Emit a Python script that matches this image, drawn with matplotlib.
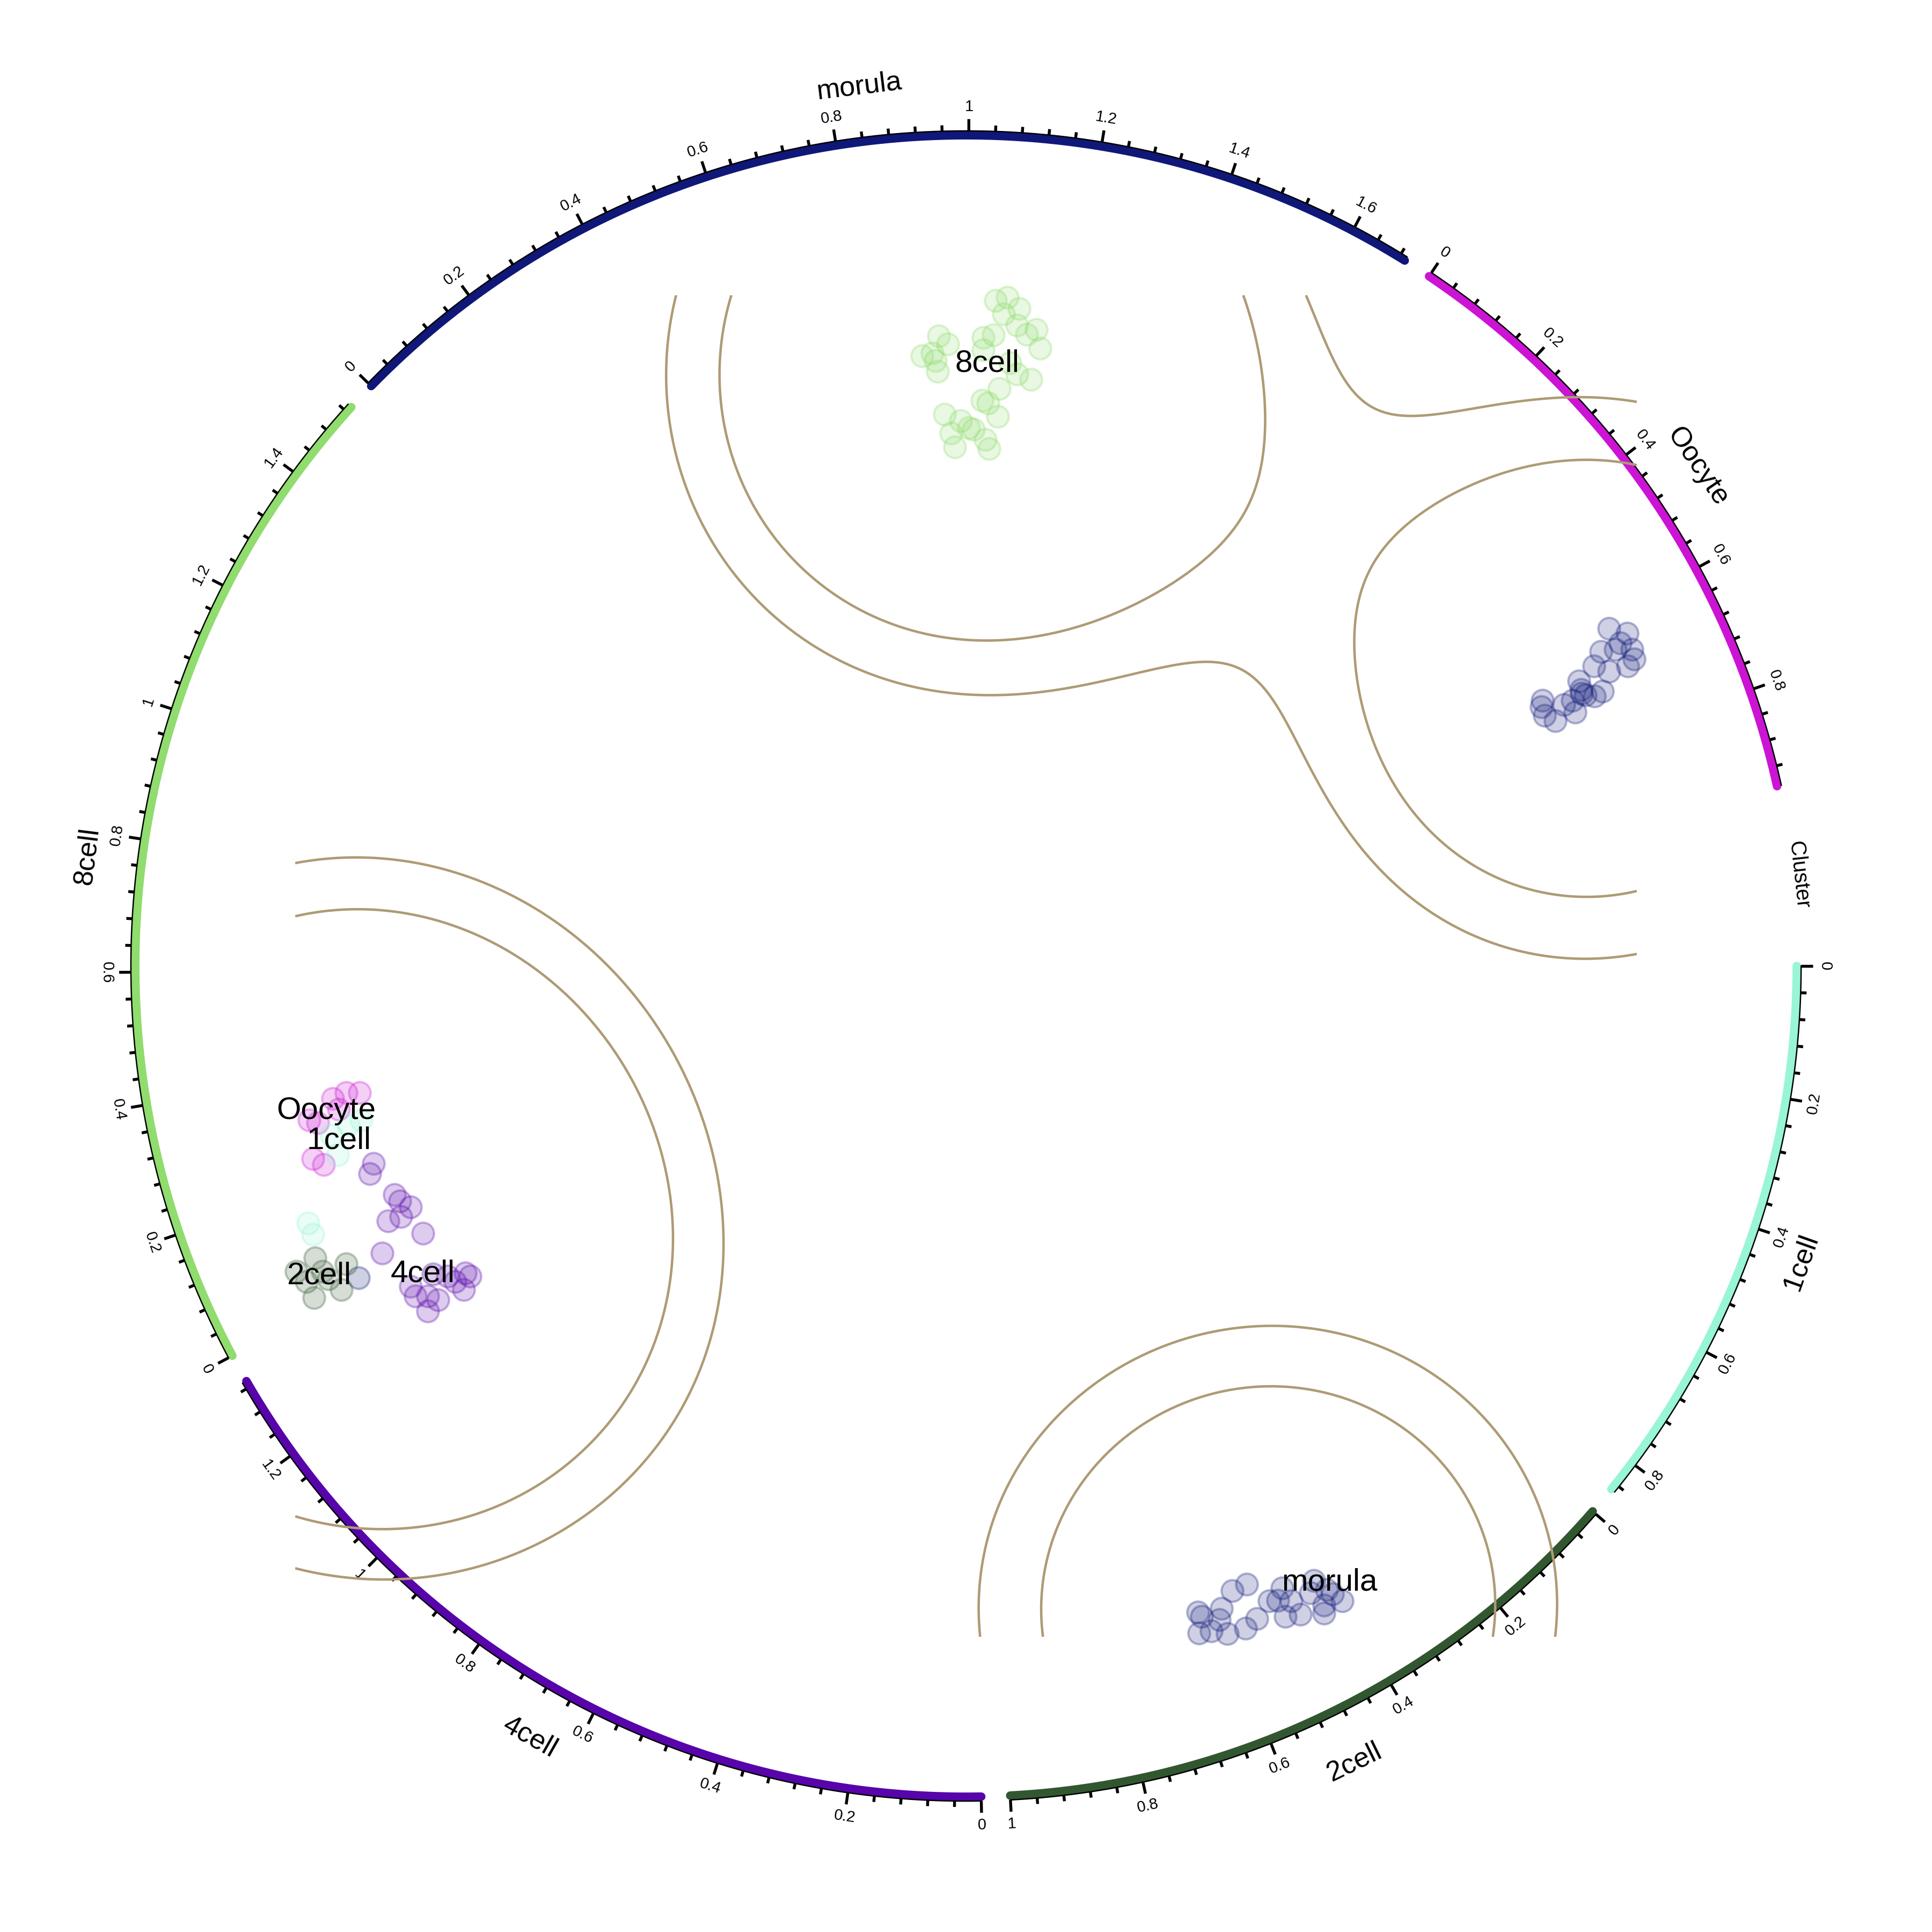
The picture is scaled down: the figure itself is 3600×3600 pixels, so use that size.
import numpy as np
import matplotlib.pyplot as plt
from matplotlib.colors import to_rgba

plt.rcParams['font.family'] = ['Liberation Sans', 'DejaVu Sans']

# sectors of the ring, clockwise from 3 o'clock
sectors = ['1cell', '2cell', '4cell', '8cell', 'morula', 'Oocyte']
sector_len = [0.85, 1.0, 1.33, 1.53, 1.69, 0.95]
sector_col = ['#98f5d6', '#325730', '#5704aa', '#90dc6e', '#0f1878', '#cc14d4']
track_name = 'Cluster'

# embedding coordinates of the cells
x_8cell = [0.55, 0.77, 0.70, 0.99, 0.95, 1.13, 1.31, 1.38, -0.51, -0.34, -0.63, -0.82, -0.57, -0.53, 0.32, 0.51,
           0.32, 0.82, 0.95, 1.21, 0.62, 0.30, 0.41, 0.59, -0.40, -0.10, -0.28, 0.05, 0.14, -0.21, 0.36, 0.43]
y_8cell = [12.40, 12.46, 12.15, 12.25, 11.94, 11.77, 11.86, 11.51, 11.74, 11.59, 11.42, 11.37, 11.28, 11.08, 11.71, 11.76,
           11.48, 11.24, 11.03, 10.93, 10.76, 10.54, 10.49, 10.24, 10.28, 10.16, 9.93, 10.03, 10.00, 9.67, 9.81, 9.64]

x_morula = [11.98, 12.32, 12.19, 11.83, 12.10, 12.41, 12.45, 12.33, 11.70, 11.98, 11.42, 11.46, 11.86, 11.71, 11.54,
            11.30, 11.14, 10.74, 10.72, 10.78, 10.98, 11.35, 11.47,
            4.32, 4.39, 4.34, 4.57, 4.76, 4.72, 4.87, 4.96, 5.23, 5.21, 5.42, 5.65, 5.89, 6.06, 5.95, 6.23,
            6.48, 6.42, 6.72, 6.67, 6.67, 7.01, 6.83, 5.81,
            -11.32]
y_morula = [6.29, 6.20, 6.02, 5.86, 5.90, 5.90, 5.72, 5.59, 5.59, 5.49, 5.31, 5.15, 5.12, 5.03, 5.05,
            4.95, 4.87, 4.95, 4.83, 4.67, 4.57, 4.73, 5.08,
            -12.04, -12.12, -12.43, -12.39, -11.97, -12.18, -12.44, -11.64, -11.52, -12.34, -12.16, -11.83, -11.59,
            -11.83, -12.12, -12.08, -11.45, -11.68, -11.62, -11.91, -12.06, -11.83, -11.70, -11.82,
            -5.81]

x_oocyte = [-11.80, -11.55, -11.30, -12.08, -12.17, -11.97, -11.69, -12.24]
y_oocyte = [-2.47, -2.36, -2.36, -2.92, -3.59, -3.70, -2.67, -2.87]

x_1cell = [-11.71, -11.51, -11.27, -12.26, -12.17, -11.83]
y_1cell = [-3.52, -2.96, -2.87, -4.79, -5.00, -3.15]

x_2cell = [-12.13, -12.48, -11.99, -11.55, -11.64, -12.15, -11.88, -12.29]
y_2cell = [-5.44, -5.69, -5.69, -5.55, -6.03, -6.18, -5.83, -5.88]

x_4cell = [-11.04, -11.11, -10.65, -10.55, -10.35, -10.53, -10.77, -10.12, -10.88, -10.35, -10.26, -10.03, -9.84,
           -10.03, -9.52, -9.36, -9.24, -9.33, -9.93, -9.66]
y_4cell = [-3.68, -3.87, -4.26, -4.38, -4.49, -4.67, -4.75, -4.98, -5.35, -5.97, -6.15, -6.15, -6.22,
           -6.43, -5.88, -6.03, -5.78, -5.72, -5.74, -5.78]

# cluster labels inside the embedding
label_names = ['8cell', 'morula', 'Oocyte', '1cell', '2cell', '4cell']
label_x = [0.39, 6.77, -11.92, -11.69, -12.06, -10.12]
label_y = [11.23, -11.49, -2.70, -3.26, -5.78, -5.74]

# density contours
BANDWIDTH = 3.46
DENSITY_LEVELS = [7.44, 11.5]
CONTOUR_COL = '#ae9b75'

########################################
# Ring
########################################

GAP = 2.0
LAST_GAP = 12.5
R_ARC = 0.860
R_AXIS = 0.8645
MAJOR = 0.0122
MINOR = 0.0061


def facing(theta):
    # text along the circle, turned upright on the lower half
    t = theta % 360
    rot = theta - 90
    flip = 180 < t < 360
    if flip:
        rot += 180
    return rot, flip


fig = plt.figure(figsize=(12, 12), dpi=300)
ring = fig.add_axes([0, 0, 1, 1], projection='polar')
ring.set_ylim(0, 1)
ring.set_axis_off()

deg_unit = (360 - GAP * (len(sectors) - 1) - LAST_GAP) / sum(sector_len)
start = 0.0
for name, length, col in zip(sectors, sector_len, sector_col):
    end = start - length * deg_unit
    th = np.radians(np.linspace(start, end, 300))
    ring.plot(th, np.full_like(th, R_ARC), color=col, lw=3.8, solid_capstyle='round')
    ring.plot(th, np.full_like(th, R_AXIS), color='black', lw=0.6)

    for i, v in enumerate(np.arange(0, length + 1e-9, 0.04)):
        t = start - v * deg_unit
        major = i % 5 == 0
        ring.plot(np.radians([t, t]), [R_AXIS, R_AXIS + (MAJOR if major else MINOR)],
                  color='black', lw=1.3, solid_capstyle='butt')
        if major:
            rot, flip = facing(t)
            ring.text(np.radians(t), R_AXIS + MAJOR + 0.005, f'{round(v, 1):g}', fontsize=7,
                      rotation=rot, rotation_mode='anchor', ha='center',
                      va='top' if flip else 'bottom')

    mid = (start + end) / 2
    rot, flip = facing(mid)
    ring.text(np.radians(mid), 0.917, name, fontsize=12.5, rotation=rot,
              rotation_mode='anchor', ha='center', va='center')
    start = end - GAP

mid = start + GAP - LAST_GAP / 2
rot, flip = facing(mid)
ring.text(np.radians(mid), 0.867, track_name, fontsize=9.5, rotation=rot,
          rotation_mode='anchor', ha='center', va='center')

########################################
# Embedding
########################################

ax = fig.add_axes([0.1528, 0.1528, 0.6944, 0.6944])
ax.set_xlim(-12.5, 12.5)
ax.set_ylim(-12.5, 12.5)
ax.set_axis_off()
ax.patch.set_alpha(0)

all_x = np.array(x_8cell + x_morula + x_oocyte + x_1cell + x_2cell + x_4cell)
all_y = np.array(y_8cell + y_morula + y_oocyte + y_1cell + y_2cell + y_4cell)
g = np.linspace(-12.5, 12.5, 400)
gx, gy = np.meshgrid(g, g)
dens = np.zeros_like(gx)
for px, py in zip(all_x, all_y):
    dens += np.exp(-((gx - px) ** 2 + (gy - py) ** 2) / (2 * BANDWIDTH ** 2))
ax.contour(gx, gy, dens, levels=DENSITY_LEVELS, colors=CONTOUR_COL, linewidths=1.1)

groups = [(x_8cell, y_8cell, '#90dc6e'), (x_morula, y_morula, '#0f1878'), (x_oocyte, y_oocyte, '#cc14d4'),
          (x_1cell, y_1cell, '#98f5d6'), (x_2cell, y_2cell, '#325730'), (x_4cell, y_4cell, '#5704aa')]
for gxs, gys, col in groups:
    ax.scatter(gxs, gys, s=95, facecolor=to_rgba(col, 0.2), edgecolor=to_rgba(col, 0.3),
               linewidth=1.0, clip_on=False)

for name, lx, ly in zip(label_names, label_x, label_y):
    ax.text(lx, ly, name, fontsize=14, ha='center', va='center')

plt.savefig('out.png', dpi=300)
